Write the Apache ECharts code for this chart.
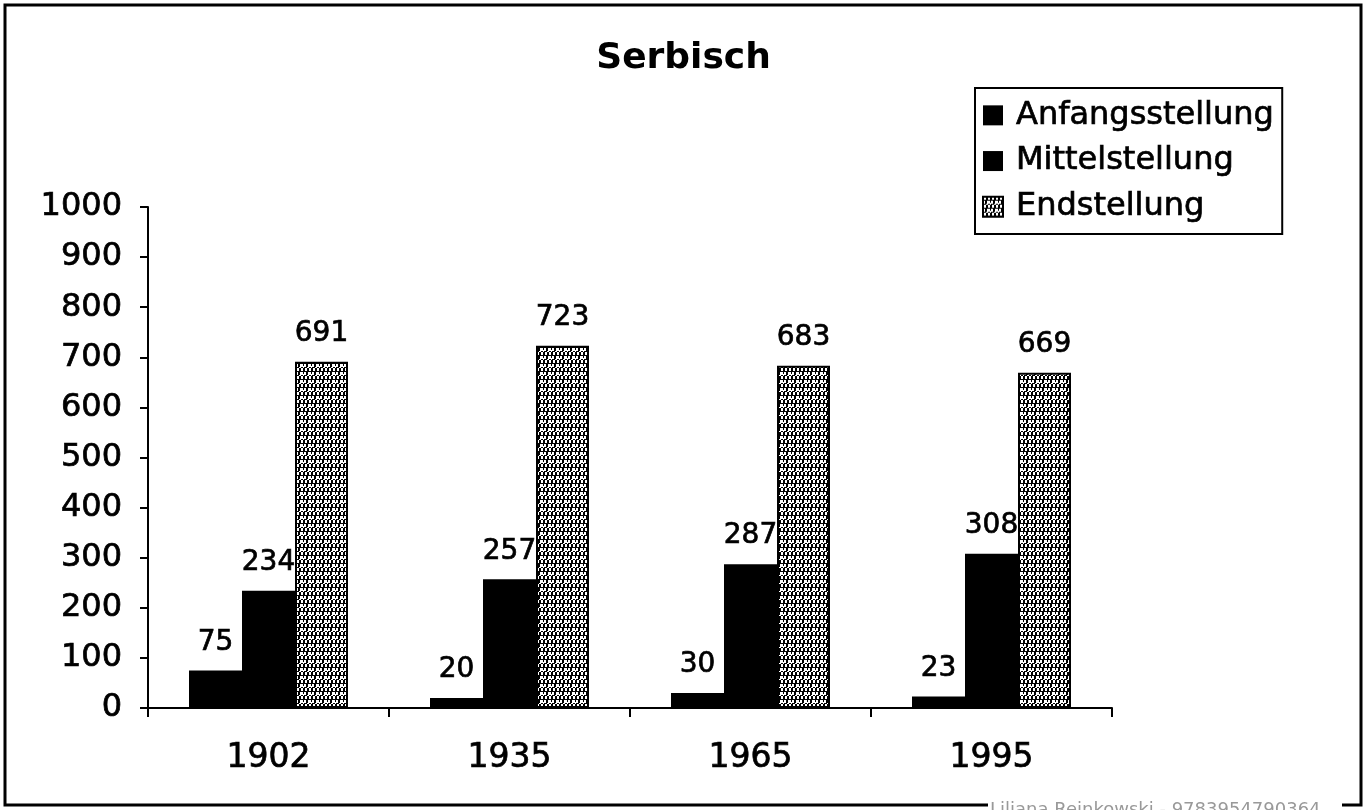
<!DOCTYPE html>
<html>
<head>
<meta charset="utf-8">
<script src="https://cdn.jsdelivr.net/npm/echarts@6/dist/echarts.min.js"></script>
<style>
  html, body { margin: 0; padding: 0; background: #fff; }
  #chart { width: 1367px; height: 810px; }
</style>
</head>
<body>
<div id="chart"></div>
<script>
const years = ['1902', '1935', '1965', '1995']
const anfangsstellung = [75, 20, 30, 23]
const mittelstellung = [234, 257, 287, 308]
const endstellung = [691, 723, 683, 669]
const seriesNames = ['Anfangsstellung', 'Mittelstellung', 'Endstellung']

const font = 'DejaVu Sans'
// the scanned text looks a bit heavier than a plain regular face
const heavy = { textBorderColor: '#000', textBorderWidth: 0.7 }

// speckled fill for the Endstellung bars (fixed tile, black with white flecks)
const makePattern = () => {
  const c = document.createElement('canvas')
  c.width = 8
  c.height = 8
  const ctx = c.getContext('2d')
  ctx.fillStyle = '#000'
  ctx.fillRect(0, 0, 8, 8)
  ctx.fillStyle = '#fff'
  ctx.fillRect(1, 0, 2, 3)
  ctx.fillRect(5, 0, 2, 3)
  ctx.fillRect(0, 4, 2, 3)
  ctx.fillRect(4, 4, 3, 3)
  ctx.fillRect(3, 7, 2, 1)
  ctx.fillRect(7, 6, 1, 2)
  return c
}
const speckle = { image: makePattern(), repeat: 'repeat' }

const myChart = echarts.init(document.getElementById('chart'))

const labelStyle = {
  show: true,
  position: 'top',
  distance: 14,
  color: '#000',
  fontFamily: font,
  fontSize: 28,
  ...heavy,
}

const option = {
  backgroundColor: '#fff',
  animation: false,
  title: {
    text: 'Serbisch',
    left: 'center',
    top: 36,
    textStyle: { fontFamily: font, fontWeight: 'bold', fontSize: 36, color: '#000' },
  },
  legend: {
    data: seriesNames,
    orient: 'vertical',
    left: 975,
    top: 88,
    padding: [11, 8, 11, 7],
    itemGap: 13,
    itemWidth: 20,
    itemHeight: 20,
    icon: 'rect',
    borderColor: '#000',
    borderWidth: 2,
    textStyle: { fontFamily: font, fontSize: 32, color: '#000', padding: [0, 0, 0, 8], ...heavy },
  },
  grid: { left: 148, right: 255, top: 207, bottom: 102 },
  xAxis: {
    type: 'category',
    data: years,
    axisLine: { lineStyle: { color: '#000', width: 2 } },
    axisTick: { show: true, length: 9, lineStyle: { color: '#000', width: 2 } },
    axisLabel: { color: '#000', fontFamily: font, fontSize: 33, margin: 34, ...heavy },
  },
  yAxis: {
    type: 'value',
    min: 0,
    max: 1000,
    interval: 100,
    splitLine: { show: false },
    axisLine: { show: true, lineStyle: { color: '#000', width: 2 } },
    axisTick: { show: true, length: 8, lineStyle: { color: '#000', width: 2 } },
    axisLabel: {
      color: '#000',
      fontFamily: font,
      fontSize: 32,
      margin: 26,
      formatter: (v) => String(v),
      ...heavy,
    },
  },
  series: [
    {
      name: 'Anfangsstellung',
      type: 'bar',
      barWidth: 53,
      barGap: '0%',
      itemStyle: { color: '#000' },
      label: labelStyle,
      data: anfangsstellung,
    },
    {
      name: 'Mittelstellung',
      type: 'bar',
      barWidth: 53,
      barGap: '0%',
      itemStyle: { color: '#000' },
      label: labelStyle,
      data: mittelstellung,
    },
    {
      name: 'Endstellung',
      type: 'bar',
      barWidth: 53,
      barGap: '0%',
      itemStyle: { color: speckle, borderColor: '#000', borderWidth: 2 },
      label: labelStyle,
      data: endstellung,
    },
  ],
  graphic: [
    {
      type: 'rect',
      shape: { x: 5, y: 5, width: 1356, height: 800 },
      style: { fill: 'none', stroke: '#000', lineWidth: 3 },
      z: 100,
    },
    {
      type: 'rect',
      shape: { x: 988, y: 801, width: 354, height: 9 },
      style: { fill: '#fff' },
      z: 101,
    },
    {
      type: 'text',
      left: 990,
      top: 801,
      style: { text: 'Liljana Reinkowski - 9783954790364', fill: '#999', font: '18px "DejaVu Sans"' },
      z: 102,
    },
  ],
}

option && myChart.setOption(option)
</script>
</body>
</html>
